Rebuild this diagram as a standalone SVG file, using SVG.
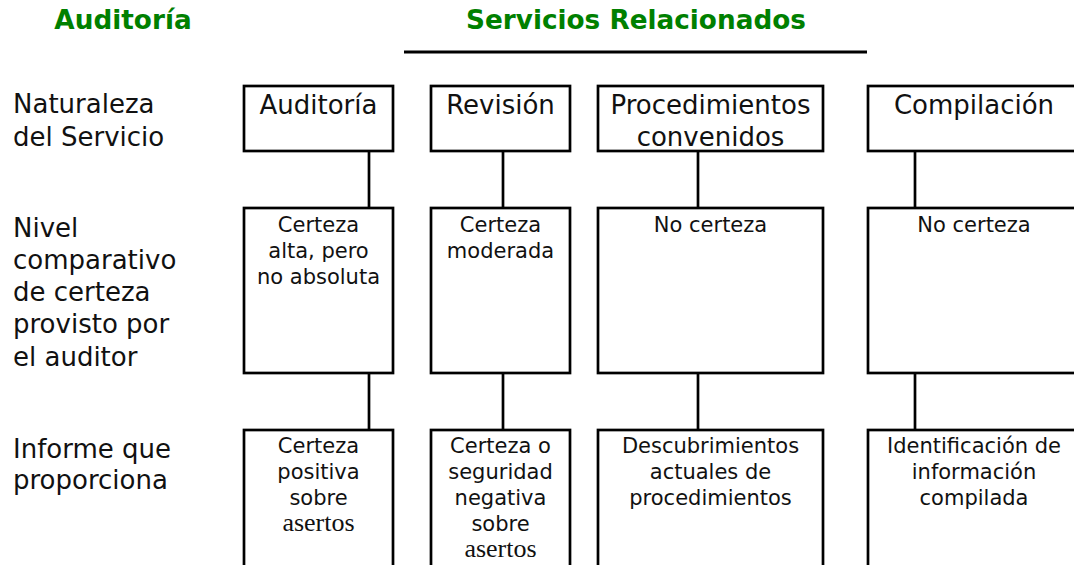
<svg xmlns="http://www.w3.org/2000/svg" width="1074" height="565" viewBox="0 0 1074 565">
<style>
  .title { font-family: "DejaVu Sans", Verdana, sans-serif; font-weight: bold; font-size: 26.3px; fill: #008000; }
  .lbl { font-family: "DejaVu Sans", Verdana, sans-serif; font-size: 26px; fill: #111; }
  .big { font-family: "DejaVu Sans", Verdana, sans-serif; font-size: 26px; fill: #111; text-anchor: middle; }
  .sm { font-family: "DejaVu Sans", Verdana, sans-serif; font-size: 21px; fill: #111; text-anchor: middle; }
  .serif { font-family: "Liberation Serif", "Times New Roman", serif; font-size: 26px; fill: #111; text-anchor: middle; }
  .box { fill: #fff; stroke: #000; stroke-width: 2.7; }
  .conn { stroke: #000; stroke-width: 2.7; fill: none; }
</style>
<rect width="1074" height="565" fill="#fff"/>

<g id="headers">
  <text class="title" x="123" y="29" text-anchor="middle">Auditoría</text>
  <text class="title" x="636" y="29" text-anchor="middle">Servicios Relacionados</text>
  <line x1="404" y1="52" x2="867" y2="52" stroke="#000" stroke-width="3"/>
</g>

<g id="row-labels">
  <text class="lbl" x="13" y="113">Naturaleza</text>
  <text class="lbl" x="13" y="146">del Servicio</text>
  <text class="lbl" x="13" y="237">Nivel</text>
  <text class="lbl" x="13" y="269">comparativo</text>
  <text class="lbl" x="13" y="301">de certeza</text>
  <text class="lbl" x="13" y="333">provisto por</text>
  <text class="lbl" x="13" y="366">el auditor</text>
  <text class="lbl" x="13" y="458">Informe que</text>
  <text class="lbl" x="13" y="489">proporciona</text>
</g>

<g id="connectors">
  <line class="conn" x1="369" y1="151" x2="369" y2="208"/>
  <line class="conn" x1="503" y1="151" x2="503" y2="208"/>
  <line class="conn" x1="698" y1="151" x2="698" y2="208"/>
  <line class="conn" x1="915" y1="151" x2="915" y2="208"/>
  <line class="conn" x1="369" y1="373" x2="369" y2="430"/>
  <line class="conn" x1="503" y1="373" x2="503" y2="430"/>
  <line class="conn" x1="698" y1="373" x2="698" y2="430"/>
  <line class="conn" x1="915" y1="373" x2="915" y2="430"/>
</g>

<g id="n-auditoria">
  <rect class="box" x="244" y="86" width="149" height="65"/>
  <text class="big" x="318.5" y="114">Auditoría</text>
</g>
<g id="n-revision">
  <rect class="box" x="431" y="86" width="139" height="65"/>
  <text class="big" x="500.5" y="114">Revisión</text>
</g>
<g id="n-procedimientos">
  <rect class="box" x="598" y="86" width="225" height="65"/>
  <text class="big" x="710.5" y="114">Procedimientos</text>
  <text class="big" x="710.5" y="146">convenidos</text>
</g>
<g id="n-compilacion">
  <rect class="box" x="868" y="86" width="212" height="65"/>
  <text class="big" x="974" y="114">Compilación</text>
</g>

<g id="c-auditoria">
  <rect class="box" x="244" y="208" width="149" height="165"/>
  <text class="sm" x="318.5" y="232">Certeza</text>
  <text class="sm" x="318.5" y="258">alta, pero</text>
  <text class="sm" x="318.5" y="284">no absoluta</text>
</g>
<g id="c-revision">
  <rect class="box" x="431" y="208" width="139" height="165"/>
  <text class="sm" x="500.5" y="232">Certeza</text>
  <text class="sm" x="500.5" y="258">moderada</text>
</g>
<g id="c-procedimientos">
  <rect class="box" x="598" y="208" width="225" height="165"/>
  <text class="sm" x="710.5" y="232">No certeza</text>
</g>
<g id="c-compilacion">
  <rect class="box" x="868" y="208" width="212" height="165"/>
  <text class="sm" x="974" y="232">No certeza</text>
</g>

<g id="i-auditoria">
  <rect class="box" x="244" y="430" width="149" height="150"/>
  <text class="sm" x="318.5" y="453">Certeza</text>
  <text class="sm" x="318.5" y="479">positiva</text>
  <text class="sm" x="318.5" y="505">sobre</text>
  <text class="serif" x="318.5" y="531">asertos</text>
</g>
<g id="i-revision">
  <rect class="box" x="431" y="430" width="139" height="150"/>
  <text class="sm" x="500.5" y="453">Certeza o</text>
  <text class="sm" x="500.5" y="479">seguridad</text>
  <text class="sm" x="500.5" y="505">negativa</text>
  <text class="sm" x="500.5" y="531">sobre</text>
  <text class="serif" x="500.5" y="557">asertos</text>
</g>
<g id="i-procedimientos">
  <rect class="box" x="598" y="430" width="225" height="150"/>
  <text class="sm" x="710.5" y="453">Descubrimientos</text>
  <text class="sm" x="710.5" y="479">actuales de</text>
  <text class="sm" x="710.5" y="505">procedimientos</text>
</g>
<g id="i-compilacion">
  <rect class="box" x="868" y="430" width="212" height="150"/>
  <text class="sm" x="974" y="453">Identificación de</text>
  <text class="sm" x="974" y="479">información</text>
  <text class="sm" x="974" y="505">compilada</text>
</g>
</svg>
